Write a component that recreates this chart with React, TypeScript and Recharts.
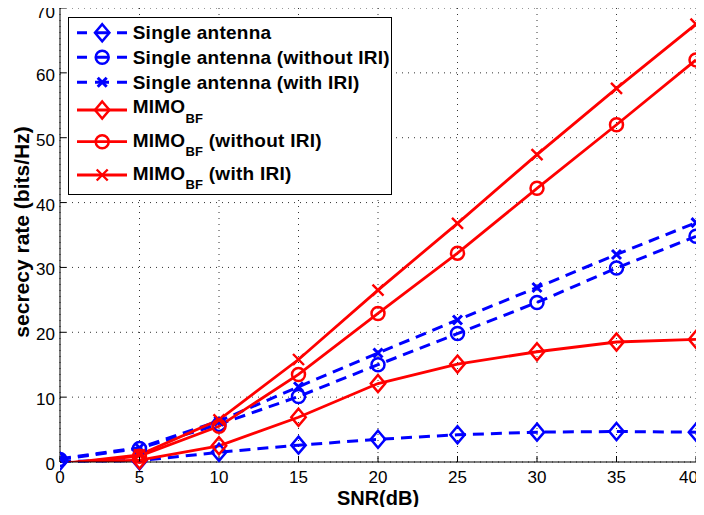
import React from 'react';
import { LineChart, Line, XAxis, YAxis, CartesianGrid, Legend } from 'recharts';

// ---- data ----
const snr = [0, 5, 10, 15, 20, 25, 30, 35, 40];
const singleAntenna = [0.1, 0.2, 1.5, 2.6, 3.5, 4.2, 4.6, 4.7, 4.6];
const singleWithoutIRI = [0.4, 2.1, 5.8, 10.1, 15.0, 19.8, 24.6, 29.9, 34.8];
const singleWithIRI = [0.5, 2.2, 6.3, 11.6, 16.8, 21.9, 26.9, 32.0, 36.9];
const mimoBF = [-0.1, 0.3, 2.5, 6.9, 12.1, 15.1, 17.0, 18.5, 18.9];
const mimoBFWithoutIRI = [-0.3, 0.9, 5.5, 13.5, 22.9, 32.2, 42.2, 52.0, 62.0];
const mimoBFWithIRI = [-0.3, 1.1, 6.5, 15.8, 26.5, 36.8, 47.4, 57.6, 67.5];

const xTicks = [0, 5, 10, 15, 20, 25, 30, 35, 40];
const yTicks = [0, 10, 20, 30, 40, 50, 60, 70];

const xLabel = 'SNR(dB)';
const yLabel = 'secrecy rate (bits/Hz)';

type Shape = 'diamond' | 'circle' | 'x';

const series: { key: string; main: string; sub: string; rest: string; color: string; dashed: boolean; shape: Shape }[] = [
  { key: 'single', main: 'Single antenna', sub: '', rest: '', color: '#0000ff', dashed: true, shape: 'diamond' },
  { key: 'singleWo', main: 'Single antenna (without IRI)', sub: '', rest: '', color: '#0000ff', dashed: true, shape: 'circle' },
  { key: 'singleW', main: 'Single antenna (with IRI)', sub: '', rest: '', color: '#0000ff', dashed: true, shape: 'x' },
  { key: 'mimo', main: 'MIMO', sub: 'BF', rest: '', color: '#ff0000', dashed: false, shape: 'diamond' },
  { key: 'mimoWo', main: 'MIMO', sub: 'BF', rest: ' (without IRI)', color: '#ff0000', dashed: false, shape: 'circle' },
  { key: 'mimoW', main: 'MIMO', sub: 'BF', rest: ' (with IRI)', color: '#ff0000', dashed: false, shape: 'x' },
];

const valuesByKey: Record<string, number[]> = {
  single: singleAntenna,
  singleWo: singleWithoutIRI,
  singleW: singleWithIRI,
  mimo: mimoBF,
  mimoWo: mimoBFWithoutIRI,
  mimoW: mimoBFWithIRI,
};

const rows = snr.map((s, i) => {
  const r: Record<string, number | null> = { snr: s };
  Object.keys(valuesByKey).forEach((k) => {
    const v = valuesByKey[k][i];
    r[k] = v;
    r[k + 'Mark'] = v < 0 ? null : v;
  });
  return r;
});

const FONT = '"Liberation Sans", Arial, Helvetica, sans-serif';

function Marker({ shape, cx, cy, color, sw, big }: { shape: Shape; cx: number; cy: number; color: string; sw: number; big?: boolean }) {
  if (shape === 'diamond') {
    return (
      <path
        d={`M${cx},${cy - 8.5}L${cx + 7.2},${cy}L${cx},${cy + 8.5}L${cx - 7.2},${cy}Z`}
        fill="none"
        stroke={color}
        strokeWidth={sw}
      />
    );
  }
  if (shape === 'circle') {
    return <circle cx={cx} cy={cy} r={6.5} fill="none" stroke={color} strokeWidth={sw} />;
  }
  const s = big ? 5.5 : 4.5;
  return (
    <path
      d={`M${cx - s},${cy - s}L${cx + s},${cy + s}M${cx - s},${cy + s}L${cx + s},${cy - s}`}
      fill="none"
      stroke={color}
      strokeWidth={big ? 2.4 : 3}
    />
  );
}

const makeDot = (shape: Shape, color: string, big: boolean) => (props: any) => {
  const { cx, cy, index, value } = props;
  if (cx == null || cy == null || value == null || (Array.isArray(value) && value[1] == null)) {
    return <g key={`d${index}`} />;
  }
  return (
    <g key={`d${index}`}>
      <Marker shape={shape} cx={cx} cy={cy} color={color} sw={2.5} big={big} />
    </g>
  );
};

const legendRowsY = [15.7, 40.3, 65.3, 93, 124.7, 158];
const legendTextY = [22, 47, 72.3, 96.3, 129.7, 163];

const LegendBox = () => (
  <svg width={324} height={178} style={{ display: 'block' }}>
    <rect x={0.5} y={0.5} width={323} height={177} fill="#fff" stroke="#000" strokeWidth={1} />
    {series.map((s, i) => (
      <g key={s.key}>
        <line
          x1={9}
          x2={59}
          y1={legendRowsY[i]}
          y2={legendRowsY[i]}
          stroke={s.color}
          strokeWidth={s.dashed ? 3 : 2.8}
          strokeDasharray={s.dashed ? '10 8 14 8 10' : undefined}
        />
        <Marker shape={s.shape} cx={34.2} cy={legendRowsY[i]} color={s.color} sw={2.5} big={!s.dashed} />
        <text
          x={64.7}
          y={legendTextY[i]}
          fontFamily={FONT}
          fontWeight="bold"
          fontSize={19}
          letterSpacing={0.25}
          fill="#000"
        >
          {s.main}
          {s.sub ? (
            <tspan dy={9.4} fontSize={13}>
              {s.sub}
            </tspan>
          ) : null}
          {s.rest ? <tspan dy={-9.4}>{s.rest}</tspan> : null}
        </text>
      </g>
    ))}
  </svg>
);

const tickStyle = { fontSize: 17, fontFamily: FONT, fill: '#000' };
const lastX = xTicks[xTicks.length - 1];

const XTick = (p: any) => {
  const v = p.payload?.value;
  const isLast = v === lastX;
  return (
    <text
      x={isLast ? p.x + 2 : p.x}
      y={p.y + 12}
      textAnchor={isLast ? 'end' : 'middle'}
      fontSize={17}
      fontFamily={FONT}
      fill="#000"
    >
      {v}
    </text>
  );
};

export default function App() {
  const blue = series.slice(0, 3);
  const red = series.slice(3);
  return (
    <div style={{ margin: -8, width: 704, height: 515, background: '#fff' }}>
      <LineChart width={704} height={515} data={rows} margin={{ top: 8, right: 8, bottom: 0, left: 0 }}>
        <CartesianGrid stroke="#333" strokeDasharray="1 5" strokeWidth={1} />
        <XAxis
          dataKey="snr"
          type="number"
          domain={[0, 40]}
          ticks={xTicks}
          height={53}
          allowDataOverflow
          stroke="#000"
          tickSize={-6}
          tickMargin={15}
          tick={XTick}
          tickLine={{ stroke: '#000' }}
          axisLine={{ stroke: '#000' }}
          label={{
            content: (p: any) => {
              const vb = p.viewBox || {};
              return (
                <text
                  x={vb.x + vb.width / 2}
                  y={505}
                  textAnchor="middle"
                  fontFamily={FONT}
                  fontWeight="bold"
                  fontSize={20}
                  fill="#000"
                >
                  {xLabel}
                </text>
              );
            },
          }}
        />
        <XAxis
          xAxisId="top"
          orientation="top"
          dataKey="snr"
          type="number"
          domain={[0, 40]}
          ticks={xTicks}
          height={0}
          allowDataOverflow
          tickSize={-6}
          tickFormatter={() => ''}
          tickLine={{ stroke: '#000' }}
          axisLine={{ stroke: '#000' }}
        />
        <YAxis
          type="number"
          domain={[0, 70]}
          ticks={yTicks}
          width={60}
          tickSize={-6}
          tickMargin={11}
          tick={{ ...tickStyle, dy: 2 }}
          tickLine={{ stroke: '#000' }}
          axisLine={{ stroke: '#000' }}
          label={{
            content: () => (
              <text
                x={29}
                y={232}
                transform="rotate(-90 29 232)"
                textAnchor="middle"
                fontFamily={FONT}
                fontWeight="bold"
                fontSize={21}
                fill="#000"
              >
                {yLabel}
              </text>
            ),
          }}
        />
        <YAxis
          yAxisId="right"
          orientation="right"
          type="number"
          domain={[0, 70]}
          ticks={yTicks}
          width={0}
          allowDataOverflow
          tickSize={-6}
          tickFormatter={() => ''}
          tickLine={{ stroke: '#000' }}
          axisLine={{ stroke: '#000' }}
        />
        <YAxis yAxisId="clip" type="number" domain={[0, 70]} allowDataOverflow hide />
        {blue.map((s) => (
          <Line
            key={s.key}
            dataKey={s.key}
            stroke={s.color}
            strokeWidth={3}
            strokeDasharray="11 7"
            dot={makeDot(s.shape, s.color, false)}
            activeDot={false}
            isAnimationActive={false}
          />
        ))}
        {red.map((s) => (
          <Line
            key={s.key}
            yAxisId="clip"
            dataKey={s.key}
            stroke={s.color}
            strokeWidth={2.8}
            dot={false}
            activeDot={false}
            isAnimationActive={false}
          />
        ))}
        {red.map((s) => (
          <Line
            key={s.key + 'Mark'}
            dataKey={s.key + 'Mark'}
            stroke="none"
            dot={makeDot(s.shape, s.color, true)}
            activeDot={false}
            isAnimationActive={false}
          />
        ))}
        <Legend
          layout="vertical"
          align="center"
          verticalAlign="middle"
          wrapperStyle={{ position: 'absolute', left: 68, top: 17, width: 324, height: 178 }}
          content={() => <LegendBox />}
        />
      </LineChart>
    </div>
  );
}
